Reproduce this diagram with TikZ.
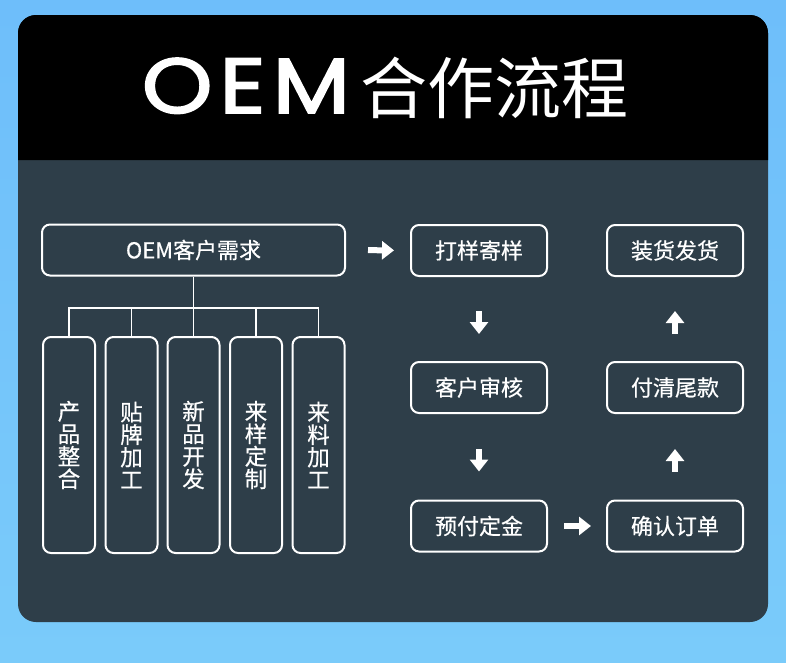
\documentclass[tikz,border=0pt]{standalone}
\usepackage{fontspec}
\setmainfont{Noto Sans CJK SC}
\newfontfamily\titlelatin{Poppins}[FakeBold=2.2, LetterSpace=8]
\newfontfamily\cjkfont{Noto Sans CJK SC}
\newfontfamily\cjkbox{Noto Sans CJK SC}[FakeBold=0.5]
\usetikzlibrary{arrows.meta}
\definecolor{bgtop}{HTML}{6EBEFA}
\definecolor{bgbot}{HTML}{7ACBFA}
\definecolor{panel}{HTML}{2E3E49}
\tikzset{
  flowbox/.style={draw=white, line width=2pt, rounded corners=8pt, text=white,
    minimum width=136pt, minimum height=51pt, inner sep=0pt,
    font=\cjkbox\fontsize{22}{24}\selectfont},
  vbox/.style={draw=white, line width=2pt, rounded corners=8pt, text=white,
    minimum width=52pt, minimum height=216pt, inner sep=0pt, align=center,
    font=\cjkbox\fontsize{22.5}{22.5}\selectfont},
  treeline/.style={draw=white, line width=1.6pt},
  blockarrow/.style={draw=white, line width=6pt,
    -{Triangle[length=12pt,width=18pt]}, fill=white}
}
\begin{document}
\begin{tikzpicture}[x=1pt,y=-1pt]
\useasboundingbox (0,0) rectangle (786,662);
% background
\shade[top color=bgtop, bottom color=bgbot] (0,0) rectangle (786,662);
% card
\fill[panel, rounded corners=18pt] (18,15) rectangle (768,622);
\fill[black] (18,160) {[rounded corners=18pt] -- (18,15) -- (768,15)} -- (768,160) -- cycle;
% title
\node[text=white, inner sep=0pt, anchor=base] (title) at (385,113)
  {\scalebox{1.15}[1]{\titlelatin\fontsize{78}{78}\selectfont OEM}\hspace{10pt}{\cjkfont\fontsize{67}{67}\selectfont 合作流程}};
% boxes
\node[flowbox, minimum width=303pt] (oem) at (193.5,250) {OEM客户需求};
\node[flowbox] (dy) at (479,250.5) {打样寄样};
\node[flowbox] (zh) at (675,250.5) {装货发货};
\node[flowbox] (sh) at (479,387.5) {客户审核};
\node[flowbox] (fq) at (675,387.5) {付清尾款};
\node[flowbox] (yf) at (479,526) {预付定金};
\node[flowbox] (qr) at (675,526) {确认订单};
% vertical boxes
\node[vbox] (v1) at (69,445) {产\\品\\整\\合};
\node[vbox] (v2) at (131.5,445) {贴\\牌\\加\\工};
\node[vbox] (v3) at (193.5,445) {新\\品\\开\\发};
\node[vbox] (v4) at (256,445) {来\\样\\定\\制};
\node[vbox] (v5) at (318.5,445) {来\\料\\加\\工};
% tree
\coordinate (bus) at (193.5,308);
\draw[treeline] (oem.south) -- (bus);
\foreach \v in {v1,v2,v3,v4,v5} {\draw[treeline] (\v.north) |- (bus);}
% arrows
\draw[blockarrow, shorten <=22pt, shorten >=16pt] (oem.east) -- (dy.west);
\draw[blockarrow, shorten <=34pt, shorten >=27pt] (dy.south) -- (sh.north);
\draw[blockarrow, shorten <=35pt, shorten >=28pt] (sh.south) -- (yf.north);
\draw[blockarrow, shorten <=16pt, shorten >=15pt] (yf.east) -- (qr.west);
\draw[blockarrow, shorten <=28pt, shorten >=35pt] (qr.north) -- (fq.south);
\draw[blockarrow, shorten <=27pt, shorten >=34pt] (fq.north) -- (zh.south);
\end{tikzpicture}
\end{document}
